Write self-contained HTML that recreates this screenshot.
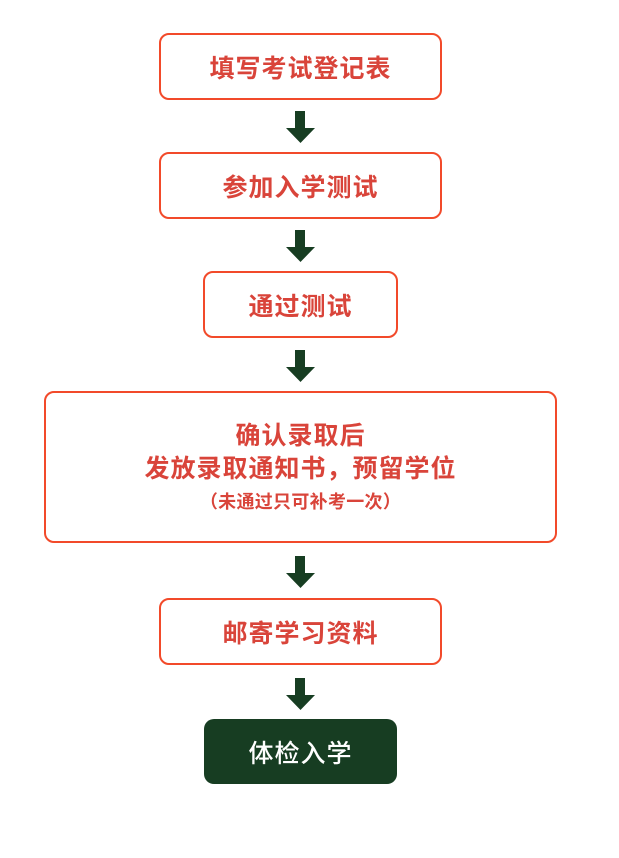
<!DOCTYPE html>
<html>
<head>
<meta charset="utf-8">
<style>
  html, body { margin: 0; padding: 0; background: #ffffff; }
  body { width: 619px; height: 858px; position: relative; overflow: hidden;
    font-family: "Liberation Sans", "Noto Sans CJK SC", sans-serif; }
  .box { position: absolute; box-sizing: border-box; border: 2.5px solid #f24a2a;
    border-radius: 10px; background: #fff; display: flex; align-items: center;
    justify-content: center; color: #d9443a; font-weight: 700; font-size: 25px;
    letter-spacing: 1px; }
  .dark { background: #173d22; border: none; color: #fff; font-weight: 500; }
  .arrow { position: absolute; left: 285px; width: 31px; }
  .l { position: absolute; left: 0; width: 100%; text-align: center; line-height: 30px; }
</style>
</head>
<body>
  <div class="box" style="left:159px;top:33px;width:283px;height:67px;">填写考试登记表</div>
  <svg class="arrow" style="top:111px;height:33px;" viewBox="0 0 31 33"><polygon points="10,0 20,0 20,17 30,17 15.5,32 1,17 10,17" fill="#173d22"/></svg>

  <div class="box" style="left:159px;top:152px;width:283px;height:67px;">参加入学测试</div>
  <svg class="arrow" style="top:230px;height:33px;" viewBox="0 0 31 33"><polygon points="10,0 20,0 20,17 30,17 15.5,32 1,17 10,17" fill="#173d22"/></svg>

  <div class="box" style="left:203px;top:271px;width:195px;height:67px;">通过测试</div>
  <svg class="arrow" style="top:350px;height:33px;" viewBox="0 0 31 33"><polygon points="10,0 20,0 20,17 30,17 15.5,32 1,17 10,17" fill="#173d22"/></svg>

  <div class="box" style="left:44px;top:391px;width:513px;height:152px;display:block;">
    <div class="l" style="top:28px;">确认录取后</div>
    <div class="l" style="top:61px;">发放录取通知书，预留学位</div>
    <div class="l" style="top:94px;font-size:18px;letter-spacing:0.3px;font-weight:700;">（未通过只可补考一次）</div>
  </div>
  <svg class="arrow" style="top:556px;height:33px;" viewBox="0 0 31 33"><polygon points="10,0 20,0 20,17 30,17 15.5,32 1,17 10,17" fill="#173d22"/></svg>

  <div class="box" style="left:159px;top:598px;width:283px;height:67px;">邮寄学习资料</div>
  <svg class="arrow" style="top:678px;height:33px;" viewBox="0 0 31 33"><polygon points="10,0 20,0 20,17 30,17 15.5,32 1,17 10,17" fill="#173d22"/></svg>

  <div class="box dark" style="left:204px;top:719px;width:193px;height:65px;">体检入学</div>
</body>
</html>
